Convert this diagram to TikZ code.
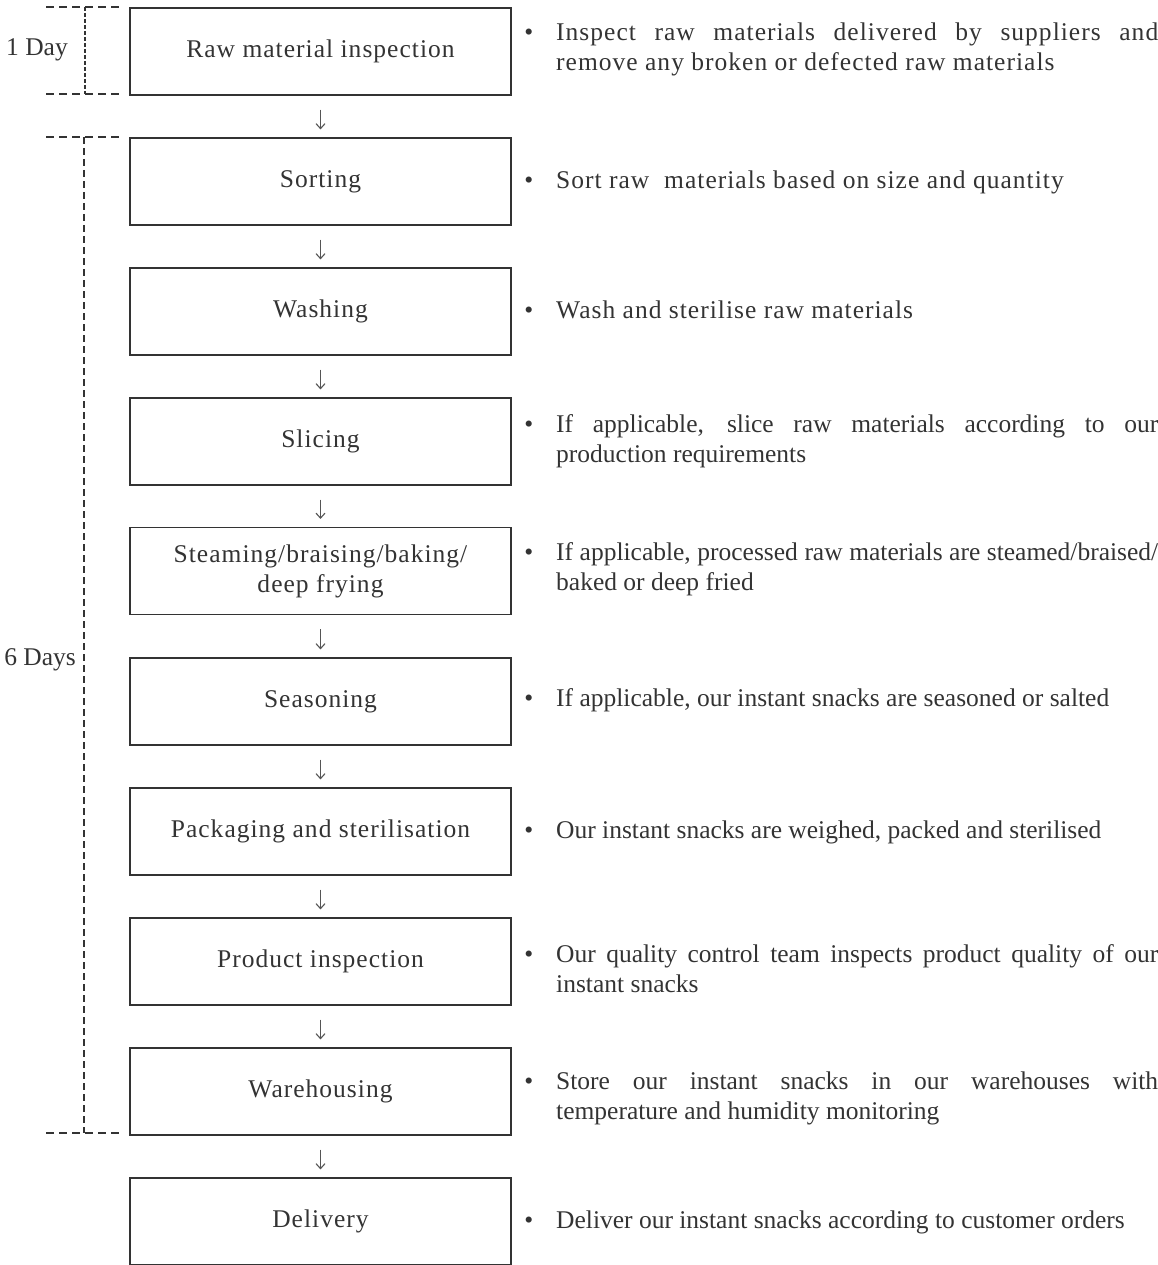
\documentclass[tikz,border=0pt]{standalone}
\usepackage{fontspec}
\setmainfont{Liberation Serif}
\newfontfamily\trk{Liberation Serif}[LetterSpace=4]
\usetikzlibrary{arrows.meta}
\definecolor{boxc}{HTML}{333333}
\definecolor{txtc}{HTML}{333333}
\definecolor{arrc}{HTML}{555555}
\newcommand\mybul{\llap{\normalfont•\hspace{23pt}}}
\hyphenpenalty=10000
\exhyphenpenalty=10000
\tikzset{
  stage/.style={draw=boxc, line width=1.1pt, minimum width=381pt, minimum height=87pt,
    inner sep=0pt, align=center, font=\trk\fontsize{25.5}{30}\selectfont, text=txtc},
  desc/.style={anchor=west, inner sep=0pt, text width=602pt, align=justify,
    font=\fontsize{25.5}{30}\selectfont, text=txtc},
  tdesc/.style={desc, font=\trk\fontsize{25.5}{30}\selectfont},
  flow/.style={draw=arrc, line width=1.1pt, -{Straight Barb[length=5pt,width=9pt]},
    shorten <=14pt, shorten >=8pt},
  bracket/.style={draw=boxc, line width=1.1pt, dash pattern=on 8pt off 5pt},
  daylabel/.style={anchor=east, inner sep=0pt, font=\fontsize{25.5}{30}\selectfont, text=txtc}
}
\begin{document}
\begin{tikzpicture}[x=1pt, y=-1pt]
\useasboundingbox (0,0) rectangle (1158,1265);
% stages
\node[stage] (s1) at (320.5,51.5) {Raw material inspection};
\node[stage] (s2) at (320.5,181.5) {Sorting};
\node[stage] (s3) at (320.5,311.5) {Washing};
\node[stage] (s4) at (320.5,441.5) {Slicing};
\node[stage] (s5) at (320.5,571) {Steaming/braising/baking/\\deep frying};
\node[stage] (s6) at (320.5,701.5) {Seasoning};
\node[stage] (s7) at (320.5,831.5) {Packaging and sterilisation};
\node[stage] (s8) at (320.5,961.5) {Product inspection};
\node[stage] (s9) at (320.5,1091.5) {Warehousing};
\node[stage] (s10) at (320.5,1221.5) {Delivery};
% arrows
\foreach \a/\b in {s1/s2,s2/s3,s3/s4,s4/s5,s5/s6,s6/s7,s7/s8,s8/s9,s9/s10}
  \draw[flow] (\a.south) -- (\b.north);
% descriptions
\node[tdesc] (d1) at (556,49) {\mybul Inspect raw materials delivered by suppliers and\linebreak remove any broken or defected raw materials};
\node[tdesc] (d2) at (556,182) {\mybul Sort raw~ materials based on size and quantity};
\node[tdesc] (d3) at (556,310) {\mybul Wash and sterilise raw materials};
\node[desc] (d4) at (556,441) {\mybul If applicable, slice raw materials according to our\linebreak production requirements};
\node[desc] (d5) at (556,569) {\mybul If applicable, processed raw materials are steamed/braised/\linebreak baked or deep fried};
\node[desc] (d6) at (556,700) {\mybul If applicable, our instant snacks are seasoned or salted};
\node[desc] (d7) at (556,832) {\mybul Our instant snacks are weighed, packed and sterilised};
\node[desc] (d8) at (556,969) {\mybul Our quality control team inspects product quality of our\linebreak instant snacks};
\node[desc] (d9) at (556,1098) {\mybul Store our instant snacks in our warehouses with\linebreak temperature and humidity monitoring};
\node[desc] (d10) at (556,1222) {\mybul Deliver our instant snacks according to customer orders};
% brackets
\coordinate (a1) at (46,7);
\coordinate (a2) at (123,7);
\coordinate (a3) at (46,94);
\coordinate (a4) at (123,94);
\coordinate (a5) at (85,7);
\coordinate (a6) at (85,94);
\draw[bracket] (a1) -- (a2);
\draw[bracket] (a3) -- (a4);
\draw[bracket, dash pattern=on 4pt off 2pt] (a5) -- (a6);
\coordinate (b1) at (46,137);
\coordinate (b2) at (123,137);
\coordinate (b3) at (46,1133);
\coordinate (b4) at (123,1133);
\coordinate (b5) at (84,137);
\coordinate (b6) at (84,1133);
\draw[bracket] (b1) -- (b2);
\draw[bracket] (b3) -- (b4);
\draw[bracket, dash pattern=on 7pt off 4pt] (b5) -- (b6);
\node[daylabel] (l1) at (68,50) {1 Day};
\node[daylabel] (l2) at (76,660) {6 Days};
\end{tikzpicture}
\end{document}
